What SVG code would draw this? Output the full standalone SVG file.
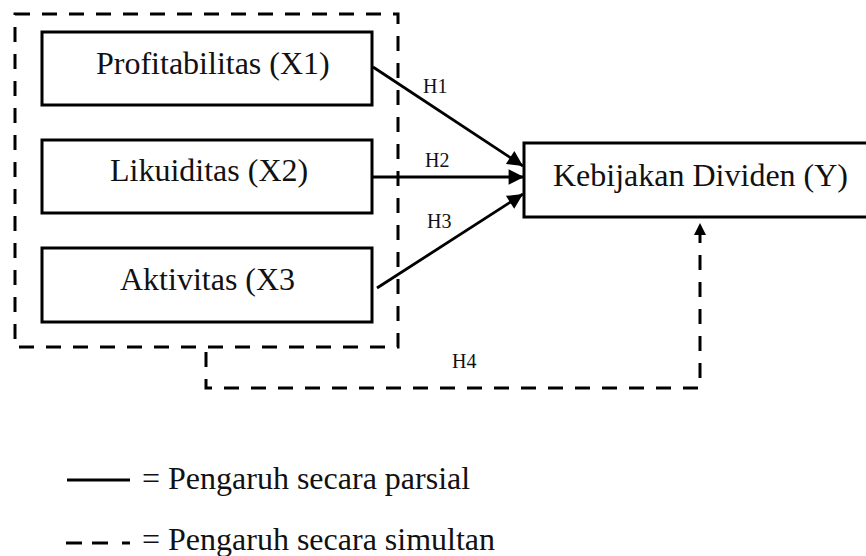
<svg xmlns="http://www.w3.org/2000/svg" width="866" height="556" viewBox="0 0 866 556">
  <defs>
    <marker id="ah" viewBox="0 0 10 10" refX="10" refY="5" markerWidth="6" markerHeight="5.5" markerUnits="strokeWidth" orient="auto">
      <path d="M0,0 L10,5 L0,10 z" fill="#000"/>
    </marker>
    <marker id="ahs" viewBox="0 0 10 10" refX="10" refY="5" markerWidth="4.5" markerHeight="4" markerUnits="strokeWidth" orient="auto">
      <path d="M0,0 L10,5 L0,10 z" fill="#000"/>
    </marker>
  </defs>
  <style>
    .box { fill: #fff; stroke: #000; stroke-width: 3; }
    .lbl { font-family: "Liberation Serif", "Times New Roman", serif; font-size: 32px; fill: #111; }
    .h { font-family: "Liberation Serif", "Times New Roman", serif; font-size: 20px; fill: #111; }
    .solid { fill: none; stroke: #000; stroke-width: 2.8; }
    .dash { fill: none; stroke: #000; stroke-width: 3; stroke-dasharray: 15 12; }
  </style>
  <rect width="866" height="556" fill="#fff"/>

  <g id="group-x">
    <rect class="dash" x="15" y="14" width="383" height="333"/>
  </g>

  <g id="node-x1">
    <rect class="box" x="42" y="32" width="330" height="73"/>
    <text class="lbl" x="96" y="74">Profitabilitas (X1)</text>
  </g>
  <g id="node-x2">
    <rect class="box" x="42" y="140" width="330" height="73"/>
    <text class="lbl" x="110" y="181">Likuiditas (X2)</text>
  </g>
  <g id="node-x3">
    <rect class="box" x="42" y="248" width="330" height="74"/>
    <text class="lbl" x="120" y="290">Aktivitas (X3</text>
  </g>
  <g id="node-y">
    <rect class="box" x="524" y="143" width="350" height="74"/>
    <text class="lbl" x="553" y="186">Kebijakan Dividen (Y)</text>
  </g>

  <g id="connectors">
    <line class="solid" x1="373" y1="67" x2="523" y2="166" marker-end="url(#ah)"/>
    <line class="solid" x1="373" y1="177" x2="524" y2="177" marker-end="url(#ah)"/>
    <line class="solid" x1="377" y1="288" x2="523" y2="194" marker-end="url(#ah)"/>
    <polyline class="dash" points="206,352 206,388 700,388 700,223" marker-end="url(#ahs)"/>
    <text class="h" x="423" y="93">H1</text>
    <text class="h" x="425" y="167">H2</text>
    <text class="h" x="427" y="228">H3</text>
    <text class="h" x="452" y="368">H4</text>
  </g>

  <g id="legend">
    <line x1="67" y1="480" x2="130" y2="480" stroke="#000" stroke-width="3"/>
    <text class="lbl" x="142" y="489">= Pengaruh secara parsial</text>
    <line x1="66" y1="543" x2="130" y2="543" stroke="#000" stroke-width="3" stroke-dasharray="16 10 16 14 8 0"/>
    <text class="lbl" x="142" y="550">= Pengaruh secara simultan</text>
  </g>
</svg>
